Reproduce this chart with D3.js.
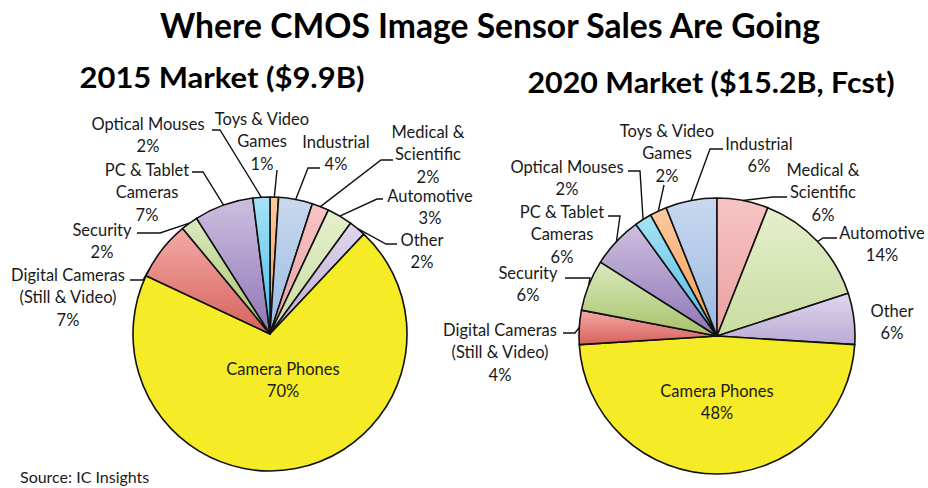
<!DOCTYPE html>
<html>
<head>
<meta charset="utf-8">
<script src="https://cdn.jsdelivr.net/npm/d3@7"></script>
<style>
  body { margin: 0; background: #fff; }
  svg { display: block; font-family: Lato, 'Open Sans', sans-serif; }
</style>
</head>
<body>
<svg id="chart" width="928" height="488"></svg>
<script>
// slice order, clockwise from the top of the 2015 pie
const categories = ['Toys & Video Games', 'Industrial', 'Medical & Scientific', 'Automotive', 'Other',
  'Camera Phones', 'Digital Cameras (Still & Video)', 'Security', 'PC & Tablet Cameras', 'Optical Mouses']
const labelLines = [['Toys & Video', 'Games'], ['Industrial'], ['Medical &', 'Scientific'], ['Automotive'], ['Other'],
  ['Camera Phones'], ['Digital Cameras', '(Still & Video)'], ['Security'], ['PC & Tablet', 'Cameras'], ['Optical Mouses']]
const share2015 = [1, 4, 2, 3, 2, 70, 7, 2, 7, 2]
const share2020 = [2, 6, 6, 14, 6, 48, 4, 6, 6, 2]

// top / bottom gradient colours per category
const colors = [
  ['#fccaa0', '#f4994c'], ['#c8d9ef', '#9cb8e0'], ['#f8c4c4', '#e9a0a0'], ['#e5efcd', '#c9dca0'],
  ['#e0d7ec', '#b9aad5'], ['#f5eb26', '#f5eb26'], ['#f4aaa6', '#d6615c'], ['#dce9c0', '#a6c368'],
  ['#cdbfe0', '#8f76b6'], ['#a8e2f6', '#4bbbe5']
]

// label placement: [text centre x, first line y, leader start x, leader y, elbow x]
const layout2015 = [
  [262, 119, 277, 170, null], [336, 142, 320, 168, 308], [428, 132, 393, 160, 381], [430, 196, 383, 199, 377],
  [422, 240, 397, 244, 386], [283, 369], [68, 275, 130, 280, 143], [102, 230, 137, 233, 160],
  [147, 170, 192, 172, 203], [148, 124, 212, 130, 220]
]
const layout2020 = [
  [667, 131, 664, 185, null], [759, 144, 723, 149, 710], [823, 170, 787, 197, 773], [882, 233, 837, 238, 823],
  [892, 311], [717, 391], [500, 330, 563, 333, 575], [528, 273, 565, 278, 590],
  [562, 212, 608, 216, 620], [567, 167, 628, 171, 640]
]
// where on a slice the leader touches (0..1 of its arc), default middle
const leaderAt2015 = {6: 0.12}

const svg = d3.select('#chart')
const defs = svg.append('defs')
colors.forEach((c, i) => {
  let g = defs.append('linearGradient')
    .attr('id', 'grad' + i)
    .attr('x1', 0).attr('y1', 0).attr('x2', 0).attr('y2', 1)
  g.append('stop').attr('offset', '0%').attr('stop-color', c[0])
  g.append('stop').attr('offset', '100%').attr('stop-color', c[1])
})

svg.append('text')
  .attr('x', 490).attr('y', 38)
  .attr('text-anchor', 'middle')
  .attr('font-size', 34).attr('font-weight', 'bold')
  .attr('textLength', 660).attr('lengthAdjust', 'spacingAndGlyphs')
  .text('Where CMOS Image Sensor Sales Are Going')

function drawPie(opts) {
  const {cx, cy, r, values, layout, title, titleX, titleY, titleW, leaderAt} = opts
  const total = d3.sum(values)
  const start = opts.startShare ? -2 * Math.PI * opts.startShare / total : 0

  svg.append('text')
    .attr('x', titleX).attr('y', titleY)
    .attr('text-anchor', 'middle')
    .attr('font-size', 29).attr('font-weight', 'bold')
    .attr('textLength', titleW).attr('lengthAdjust', 'spacingAndGlyphs')
    .text(title)

  const pie = d3.pie().sort(null).value(d => d).startAngle(start).endAngle(start + 2 * Math.PI)
  const arcs = pie(values)
  const arc = d3.arc().innerRadius(0).outerRadius(r)
  const g = svg.append('g').attr('transform', `translate(${cx},${cy})`)

  g.selectAll('path')
    .data(arcs)
    .join('path')
    .attr('d', arc)
    .attr('fill', (d, i) => `url(#grad${i})`)
    .attr('stroke', '#111')
    .attr('stroke-width', 1.6)
    .attr('stroke-linejoin', 'round')

  const line = d3.line()
  arcs.forEach((a, i) => {
    let p = layout[i]
    let lines = labelLines[i].concat([values[i] + '%'])
    let t = svg.append('text')
      .attr('text-anchor', 'middle')
      .attr('font-size', 16.5)
      .attr('fill', '#1a1a1a')
    lines.forEach((s, k) => {
      t.append('tspan')
        .attr('x', p[0])
        .attr('y', p[1] + k * 22.5)
        .attr('dy', '0.36em')
        .text(s)
    })
    if (p.length > 2) {
      let f = leaderAt && leaderAt[i] != null ? leaderAt[i] : 0.5
      let ang = a.startAngle + (a.endAngle - a.startAngle) * f
      let end = [cx + r * Math.sin(ang), cy - r * Math.cos(ang)]
      let pts = [[p[2], p[3]]]
      if (p[4] != null) pts.push([p[4], p[3]])
      pts.push(end)
      svg.append('path')
        .attr('d', line(pts))
        .attr('fill', 'none')
        .attr('stroke', '#111')
        .attr('stroke-width', 1.4)
    }
  })
}

drawPie({cx: 270, cy: 334, r: 137, values: share2015, layout: layout2015, leaderAt: leaderAt2015,
  title: '2015 Market ($9.9B)', titleX: 222, titleY: 88, titleW: 285})
drawPie({cx: 717, cy: 336, r: 138, values: share2020, layout: layout2020,
  startShare: share2020[0] + share2020[1],
  title: '2020 Market ($15.2B, Fcst)', titleX: 711, titleY: 93, titleW: 367})

svg.append('text')
  .attr('x', 20).attr('y', 483)
  .attr('font-size', 16)
  .attr('fill', '#1a1a1a')
  .text('Source: IC Insights')
</script>
</body>
</html>
